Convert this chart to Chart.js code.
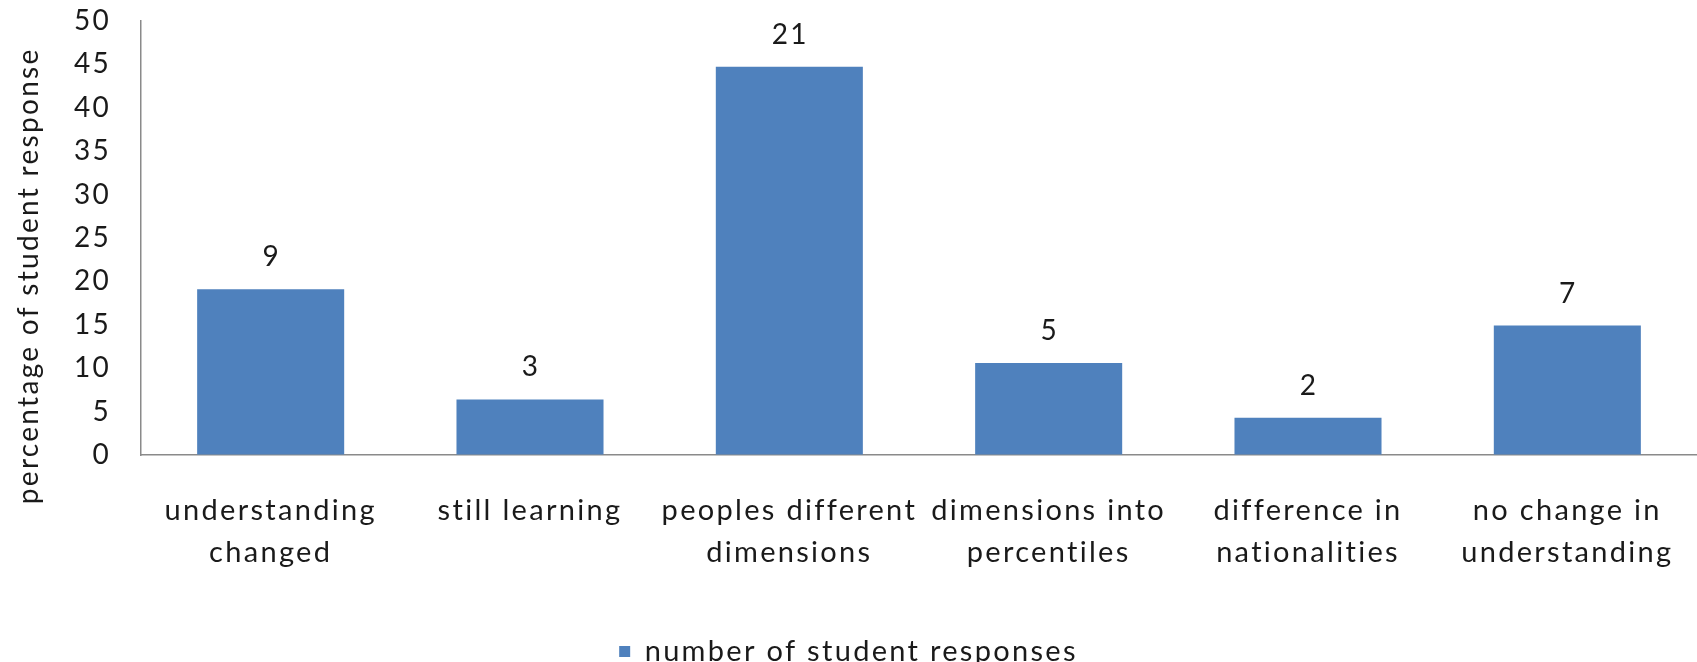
<!DOCTYPE html>
<html>
<head>
<meta charset="utf-8">
<script src="https://cdn.jsdelivr.net/npm/chart.js@4.4.1/dist/chart.umd.min.js"></script>
<style>
    html, body { margin: 0; padding: 0; background: #fff; }
    #wrap { width: 1697px; height: 662px; }
</style>
</head>
<body>
<div id="wrap"><canvas id="barChart" width="1697" height="662"></canvas></div>
<script>
// categories (split in two lines like the original)
var categories = [
    ['understanding', 'changed'],
    ['still learning'],
    ['peoples different', 'dimensions'],
    ['dimensions into', 'percentiles'],
    ['difference in', 'nationalities'],
    ['no change in', 'understanding']
];
// bar heights (percentage) and the counts written above them
var percentages = [19.1, 6.4, 44.7, 10.6, 4.3, 14.9];
var counts = [9, 3, 21, 5, 2, 7];
var yTicks = [0, 5, 10, 15, 20, 25, 30, 35, 40, 45, 50];

var textColor = '#1a1a1a';
var fontName = 'Lato, "Open Sans", sans-serif';
var spacing = '2.3px';

// small plugin: wide letter spacing like the original + counts above every bar
var countLabels = {
    id: 'countLabels',
    beforeLayout: function(chart) {
        chart.ctx.letterSpacing = spacing;
    },
    beforeDraw: function(chart) {
        chart.ctx.letterSpacing = spacing;
    },
    afterDatasetsDraw: function(chart) {
        var ctx = chart.ctx;
        var meta = chart.getDatasetMeta(0);
        ctx.save();
        ctx.font = '28px ' + fontName;
        ctx.fillStyle = textColor;
        ctx.textAlign = 'center';
        ctx.textBaseline = 'middle';
        meta.data.forEach(function(bar, i) {
            ctx.fillText(String(counts[i]), bar.x + 1, bar.y - 32);
        });
        ctx.restore();
    }
};

// invisible tick marks, used only to push the labels away from the axis
var hiddenTicks = {
    display: true,
    drawOnChartArea: false,
    drawTicks: true,
    tickColor: 'rgba(0,0,0,0)'
};

var ctx1 = document.getElementById('barChart').getContext('2d');
window.myChart1 = new Chart(ctx1, {
    type: 'bar',
    data: {
        labels: categories,
        datasets: [{
            label: 'number of student responses',
            data: percentages,
            backgroundColor: '#4F81BD',
            borderWidth: 0,
            categoryPercentage: 1,
            barPercentage: 0.567
        }]
    },
    options: {
        responsive: false,
        animation: false,
        layout: {
            padding: { top: 0, right: 0, left: 0, bottom: -14 }
        },
        plugins: {
            legend: {
                display: true,
                position: 'bottom',
                labels: {
                    boxWidth: 11,
                    boxHeight: 11,
                    padding: 0,
                    color: textColor,
                    font: { family: fontName, size: 29 }
                }
            },
            tooltip: { enabled: false }
        },
        scales: {
            x: {
                grid: Object.assign({ tickLength: 31 }, hiddenTicks),
                border: { display: true, color: '#8a8a8a', width: 1.5 },
                ticks: {
                    color: textColor,
                    padding: 4,
                    maxRotation: 0,
                    autoSkip: false,
                    font: { family: fontName, size: 29, lineHeight: 1.45 }
                },
                afterFit: function(scale) {
                    scale.height = 182;
                }
            },
            y: {
                min: 0,
                max: 50,
                grid: Object.assign({ tickLength: 26 }, hiddenTicks),
                border: { display: true, color: '#8a8a8a', width: 1.5 },
                afterBuildTicks: function(scale) {
                    scale.ticks = yTicks.map(function(v) { return { value: v }; });
                },
                ticks: {
                    color: textColor,
                    padding: 4,
                    font: { family: fontName, size: 28 }
                },
                title: {
                    display: true,
                    text: 'percentage of student response        ',
                    color: textColor,
                    padding: { top: 12, bottom: 4 },
                    font: { family: fontName, size: 28 }
                },
                afterFit: function(scale) {
                    scale.width = 141;
                }
            }
        }
    },
    plugins: [countLabels]
});
</script>
</body>
</html>
